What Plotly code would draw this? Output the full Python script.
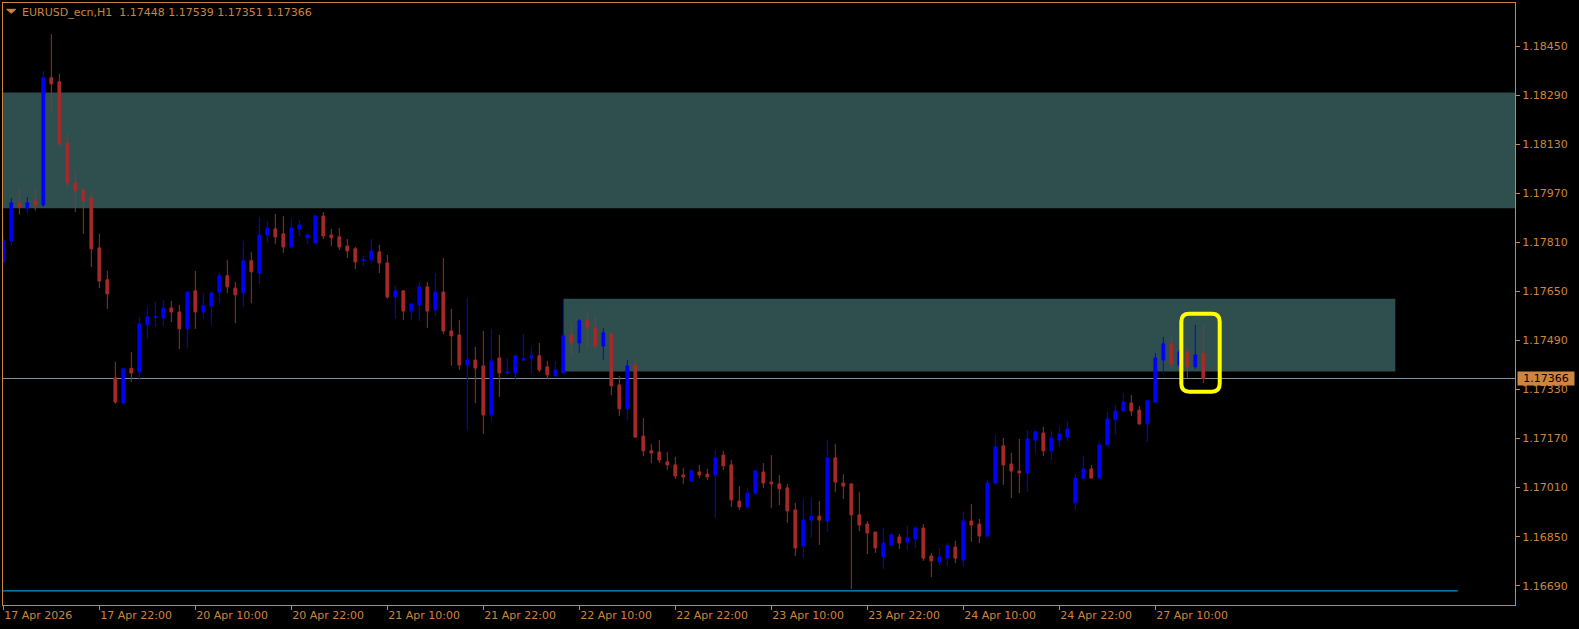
import plotly.graph_objects as go

# ---------------- data ----------------
bars = list(range(151))

open_ = [1.17747, 1.17815, 1.17939, 1.17922, 1.17945, 1.17932, 1.18347, 1.18334, 1.18134, 1.18004,
         1.17981, 1.17955, 1.17792, 1.17688, 1.17368, 1.17286, 1.17399, 1.17387, 1.17541, 1.17566,
         1.17564, 1.17596, 1.17583, 1.17528, 1.17652, 1.17583, 1.17603, 1.17648, 1.17701, 1.17661,
         1.17645, 1.17750, 1.17710, 1.17834, 1.17854, 1.17838, 1.17795, 1.17854, 1.17825, 1.17808,
         1.17896, 1.17834, 1.17828, 1.17798, 1.17789, 1.17750, 1.17753, 1.17779, 1.17743, 1.17632,
         1.17652, 1.17586, 1.17606, 1.17665, 1.17590, 1.17648, 1.17521, 1.17508, 1.17410, 1.17426,
         1.17407, 1.17247, 1.17433, 1.17384, 1.17384, 1.17426, 1.17433, 1.17440, 1.17404, 1.17374,
         1.17384, 1.17508, 1.17482, 1.17554, 1.17531, 1.17472, 1.17511, 1.17345, 1.17267, 1.17410,
         1.17178, 1.17130, 1.17126, 1.17094, 1.17084, 1.17051, 1.17032, 1.17061, 1.17054, 1.17051,
         1.17116, 1.17084, 1.16966, 1.16947, 1.16992, 1.17061, 1.17028, 1.17022, 1.17009, 1.16937,
         1.16820, 1.16904, 1.16917, 1.16901, 1.17107, 1.17025, 1.17022, 1.16921, 1.16891, 1.16865,
         1.16784, 1.16823, 1.16849, 1.16833, 1.16842, 1.16878, 1.16787, 1.16767, 1.16780, 1.16816,
         1.16774, 1.16901, 1.16891, 1.16852, 1.17025, 1.17146, 1.17087, 1.17064, 1.17058, 1.17165,
         1.17188, 1.17130, 1.17165, 1.17175, 1.16960, 1.17041, 1.17071, 1.17041, 1.17149, 1.17231,
         1.17260, 1.17286, 1.17263, 1.17218, 1.17289, 1.17426, 1.17479, 1.17410, 1.17453, 1.17404,
         1.17448]

high = [1.17831, 1.17955, 1.17990, 1.17958, 1.17990, 1.18369, 1.18490, 1.18360, 1.18164, 1.18046,
        1.17981, 1.17975, 1.17838, 1.17717, 1.17420, 1.17400, 1.17453, 1.17567, 1.17599, 1.17616,
        1.17622, 1.17619, 1.17606, 1.17648, 1.17717, 1.17645, 1.17652, 1.17710, 1.17753, 1.17681,
        1.17815, 1.17779, 1.17893, 1.17880, 1.17903, 1.17896, 1.17887, 1.17883, 1.17841, 1.17900,
        1.17909, 1.17854, 1.17857, 1.17821, 1.17795, 1.17766, 1.17821, 1.17802, 1.17769, 1.17668,
        1.17652, 1.17612, 1.17681, 1.17681, 1.17710, 1.17759, 1.17593, 1.17557, 1.17629, 1.17469,
        1.17521, 1.17528, 1.17508, 1.17433, 1.17440, 1.17511, 1.17469, 1.17482, 1.17423, 1.17423,
        1.17626, 1.17550, 1.17560, 1.17586, 1.17570, 1.17531, 1.17515, 1.17374, 1.17426, 1.17426,
        1.17237, 1.17152, 1.17165, 1.17126, 1.17110, 1.17074, 1.17071, 1.17084, 1.17071, 1.17133,
        1.17130, 1.17100, 1.17015, 1.17006, 1.17068, 1.17090, 1.17116, 1.17051, 1.17022, 1.16960,
        1.16973, 1.16979, 1.16966, 1.17165, 1.17152, 1.17054, 1.17025, 1.16996, 1.16901, 1.16865,
        1.16878, 1.16862, 1.16859, 1.16885, 1.16885, 1.16891, 1.16797, 1.16813, 1.16829, 1.16836,
        1.16930, 1.16957, 1.16908, 1.17035, 1.17182, 1.17172, 1.17123, 1.17169, 1.17198, 1.17195,
        1.17208, 1.17195, 1.17208, 1.17227, 1.17054, 1.17113, 1.17084, 1.17162, 1.17257, 1.17280,
        1.17319, 1.17312, 1.17276, 1.17293, 1.17449, 1.17502, 1.17502, 1.17462, 1.17466, 1.17541,
        1.17539]

low = [1.17741, 1.17799, 1.17901, 1.17905, 1.17914, 1.17926, 1.18232, 1.18125, 1.17988, 1.17909,
       1.17838, 1.17730, 1.17661, 1.17593, 1.17283, 1.17280, 1.17355, 1.17361, 1.17495, 1.17534,
       1.17537, 1.17550, 1.17462, 1.17466, 1.17528, 1.17560, 1.17541, 1.17612, 1.17645, 1.17547,
       1.17599, 1.17612, 1.17674, 1.17808, 1.17805, 1.17776, 1.17792, 1.17831, 1.17805, 1.17808,
       1.17821, 1.17798, 1.17785, 1.17759, 1.17723, 1.17733, 1.17743, 1.17710, 1.17626, 1.17560,
       1.17557, 1.17557, 1.17554, 1.17531, 1.17570, 1.17511, 1.17407, 1.17394, 1.17195, 1.17286,
       1.17185, 1.17227, 1.17306, 1.17378, 1.17364, 1.17423, 1.17381, 1.17387, 1.17364, 1.17374,
       1.17384, 1.17440, 1.17449, 1.17466, 1.17459, 1.17426, 1.17312, 1.17244, 1.17231, 1.17172,
       1.17113, 1.17090, 1.17090, 1.17068, 1.17038, 1.17022, 1.17032, 1.17041, 1.17035, 1.16911,
       1.17068, 1.16947, 1.16937, 1.16940, 1.16986, 1.17009, 1.16944, 1.16953, 1.16895, 1.16787,
       1.16780, 1.16846, 1.16823, 1.16865, 1.16996, 1.16973, 1.16679, 1.16868, 1.16793, 1.16797,
       1.16745, 1.16816, 1.16810, 1.16806, 1.16813, 1.16771, 1.16718, 1.16754, 1.16754, 1.16764,
       1.16751, 1.16833, 1.16829, 1.16846, 1.17019, 1.17019, 1.16976, 1.16992, 1.16996, 1.17123,
       1.17113, 1.17100, 1.17143, 1.17162, 1.16937, 1.17032, 1.17038, 1.17041, 1.17149, 1.17182,
       1.17257, 1.17244, 1.17214, 1.17159, 1.17286, 1.17381, 1.17400, 1.17404, 1.17368, 1.17397,
       1.17351]

close = [1.17815, 1.17939, 1.17926, 1.17939, 1.17932, 1.18347, 1.18327, 1.18131, 1.18004, 1.17978,
         1.17945, 1.17789, 1.17684, 1.17642, 1.17289, 1.17397, 1.17384, 1.17544, 1.17567, 1.17567,
         1.17596, 1.17583, 1.17528, 1.17648, 1.17583, 1.17603, 1.17645, 1.17701, 1.17665, 1.17639,
         1.17750, 1.17714, 1.17834, 1.17857, 1.17828, 1.17795, 1.17857, 1.17867, 1.17834, 1.17896,
         1.17831, 1.17825, 1.17795, 1.17782, 1.17746, 1.17753, 1.17782, 1.17743, 1.17632, 1.17652,
         1.17586, 1.17609, 1.17665, 1.17586, 1.17648, 1.17521, 1.17505, 1.17410, 1.17426, 1.17400,
         1.17247, 1.17423, 1.17384, 1.17387, 1.17440, 1.17430, 1.17440, 1.17394, 1.17378, 1.17394,
         1.17505, 1.17482, 1.17554, 1.17531, 1.17472, 1.17515, 1.17342, 1.17267, 1.17407, 1.17175,
         1.17130, 1.17123, 1.17100, 1.17084, 1.17048, 1.17045, 1.17064, 1.17051, 1.17045, 1.17107,
         1.17081, 1.16970, 1.16947, 1.16992, 1.17064, 1.17025, 1.17022, 1.17006, 1.16934, 1.16813,
         1.16904, 1.16917, 1.16904, 1.17107, 1.17028, 1.17015, 1.16921, 1.16888, 1.16862, 1.16813,
         1.16829, 1.16855, 1.16829, 1.16846, 1.16878, 1.16780, 1.16771, 1.16784, 1.16820, 1.16780,
         1.16901, 1.16888, 1.16852, 1.17025, 1.17143, 1.17084, 1.17064, 1.17058, 1.17169, 1.17192,
         1.17130, 1.17172, 1.17185, 1.17201, 1.17041, 1.17071, 1.17041, 1.17149, 1.17234, 1.17260,
         1.17289, 1.17260, 1.17218, 1.17293, 1.17433, 1.17479, 1.17413, 1.17453, 1.17404, 1.17443,
         1.17366]

tick_bars = [0, 12, 24, 36, 48, 60, 72, 84, 96, 108, 120, 132, 144]
tick_labels = ["17 Apr 2026", "17 Apr 22:00", "20 Apr 10:00", "20 Apr 22:00", "21 Apr 10:00",
               "21 Apr 22:00", "22 Apr 10:00", "22 Apr 22:00", "23 Apr 10:00", "23 Apr 22:00",
               "24 Apr 10:00", "24 Apr 22:00", "27 Apr 10:00"]

price_ticks = [1.16690, 1.16850, 1.17010, 1.17170, 1.17330, 1.17490,
               1.17650, 1.17810, 1.17970, 1.18130, 1.18290, 1.18450]

symbol = "EURUSD_ecn,H1"
last_ohlc = [1.17448, 1.17539, 1.17351, 1.17366]
bid_price = 1.17366

upper_zone = [1.17921, 1.18299]          # price bottom / top
lower_zone = [1.17389, 1.17626]
lower_zone_bars = [70, 174]
bottom_line_price = 1.16673
bottom_line_bars = [-1, 181.8]
highlight_bars = [147.25, 152.05]
highlight_prices = [1.17323, 1.17577]

x_range = [-0.04, 188.96]
y_range = [1.16627, 1.18591]

# ---------------- style ----------------
FG = "#CD853F"
BULL = "#0000FF"
BEAR = "#A52A2A"
ZONE = "#2F4F4F"
FONT = "DejaVu Sans"

fig = go.Figure()
fig.add_trace(go.Candlestick(
    x=bars, open=open_, high=high, low=low, close=close,
    increasing=dict(line=dict(color=BULL, width=1), fillcolor=BULL),
    decreasing=dict(line=dict(color=BEAR, width=1), fillcolor=BEAR),
    whiskerwidth=0, hoverinfo="skip", showlegend=False,
))

shapes = []
shapes.append(dict(type="rect", xref="paper", yref="y", x0=0, x1=1,
                   y0=upper_zone[0], y1=upper_zone[1], fillcolor=ZONE,
                   line=dict(width=0), layer="below"))
shapes.append(dict(type="rect", xref="x", yref="y", x0=lower_zone_bars[0], x1=lower_zone_bars[1],
                   y0=lower_zone[0], y1=lower_zone[1], fillcolor=ZONE,
                   line=dict(width=0), layer="below"))
shapes.append(dict(type="line", xref="paper", yref="y", x0=0, x1=1, y0=bid_price, y1=bid_price,
                   line=dict(color="#8090A4", width=1), layer="below"))
shapes.append(dict(type="line", xref="x", yref="y", x0=bottom_line_bars[0], x1=bottom_line_bars[1],
                   y0=bottom_line_price, y1=bottom_line_price,
                   line=dict(color="#00BFFF", width=1), layer="below"))

# rounded highlight box
bx0, bx1 = highlight_bars
by0, by1 = highlight_prices
rx = 1.0
ry = 0.00026
path = (f"M {bx0+rx},{by1} L {bx1-rx},{by1} Q {bx1},{by1} {bx1},{by1-ry} "
        f"L {bx1},{by0+ry} Q {bx1},{by0} {bx1-rx},{by0} "
        f"L {bx0+rx},{by0} Q {bx0},{by0} {bx0},{by0+ry} "
        f"L {bx0},{by1-ry} Q {bx0},{by1} {bx0+rx},{by1} Z")
shapes.append(dict(type="path", xref="x", yref="y", path=path,
                   line=dict(color="#FFFF00", width=4), layer="above"))

# small triangle before the symbol text
shapes.append(dict(type="path", xref="paper", yref="paper", xsizemode="pixel", ysizemode="pixel",
                   xanchor=0, yanchor=1, path="M 3.7,-6.3 L 12.7,-6.3 L 8.2,-10.3 Z",
                   fillcolor=FG, line=dict(color=FG, width=1), layer="above"))

annotations = []
title_text = symbol + "\u00a0\u00a0" + " ".join(f"{v:.5f}" for v in last_ohlc)
annotations.append(dict(text=title_text, xref="paper", yref="paper", x=0, y=1,
                        xanchor="left", yanchor="top", xshift=17, yshift=-1, showarrow=False,
                        font=dict(family=FONT, size=11, color=FG)))
annotations.append(dict(text=f"{bid_price:.5f}", xref="paper", yref="y", x=1, y=bid_price,
                        xanchor="left", yanchor="middle", xshift=2, showarrow=False,
                        bgcolor=FG, borderpad=0, width=56, height=13, align="center",
                        font=dict(family=FONT, size=11, color="#000000")))

fig.update_layout(
    width=1579, height=629,
    margin=dict(l=3, r=64, t=3, b=24),
    paper_bgcolor="#000000", plot_bgcolor="#000000",
    showlegend=False,
    shapes=shapes, annotations=annotations,
    boxgap=0.5,
    font=dict(family=FONT, size=11, color=FG),
    xaxis=dict(range=x_range, showgrid=False, zeroline=False, showline=True, mirror=True,
               linecolor=FG, linewidth=1, ticks="outside", ticklen=4, tickcolor=FG,
               tickvals=tick_bars, ticktext=tick_labels, ticklabelposition="outside right",
               tickfont=dict(family=FONT, size=11, color=FG),
               rangeslider=dict(visible=False), fixedrange=True),
    yaxis=dict(range=y_range, side="right", showgrid=False, zeroline=False, showline=True,
               mirror=True, linecolor=FG, linewidth=1, ticks="outside", ticklen=4, tickcolor=FG,
               tickvals=price_ticks, ticktext=[f"{p:.5f}" for p in price_ticks],
               tickfont=dict(family=FONT, size=11, color=FG), fixedrange=True),
)

fig.write_html("out.html",
               config={"displayModeBar": False, "staticPlot": True},
               post_script="document.body.style.margin='0';document.body.style.overflow='hidden';")
